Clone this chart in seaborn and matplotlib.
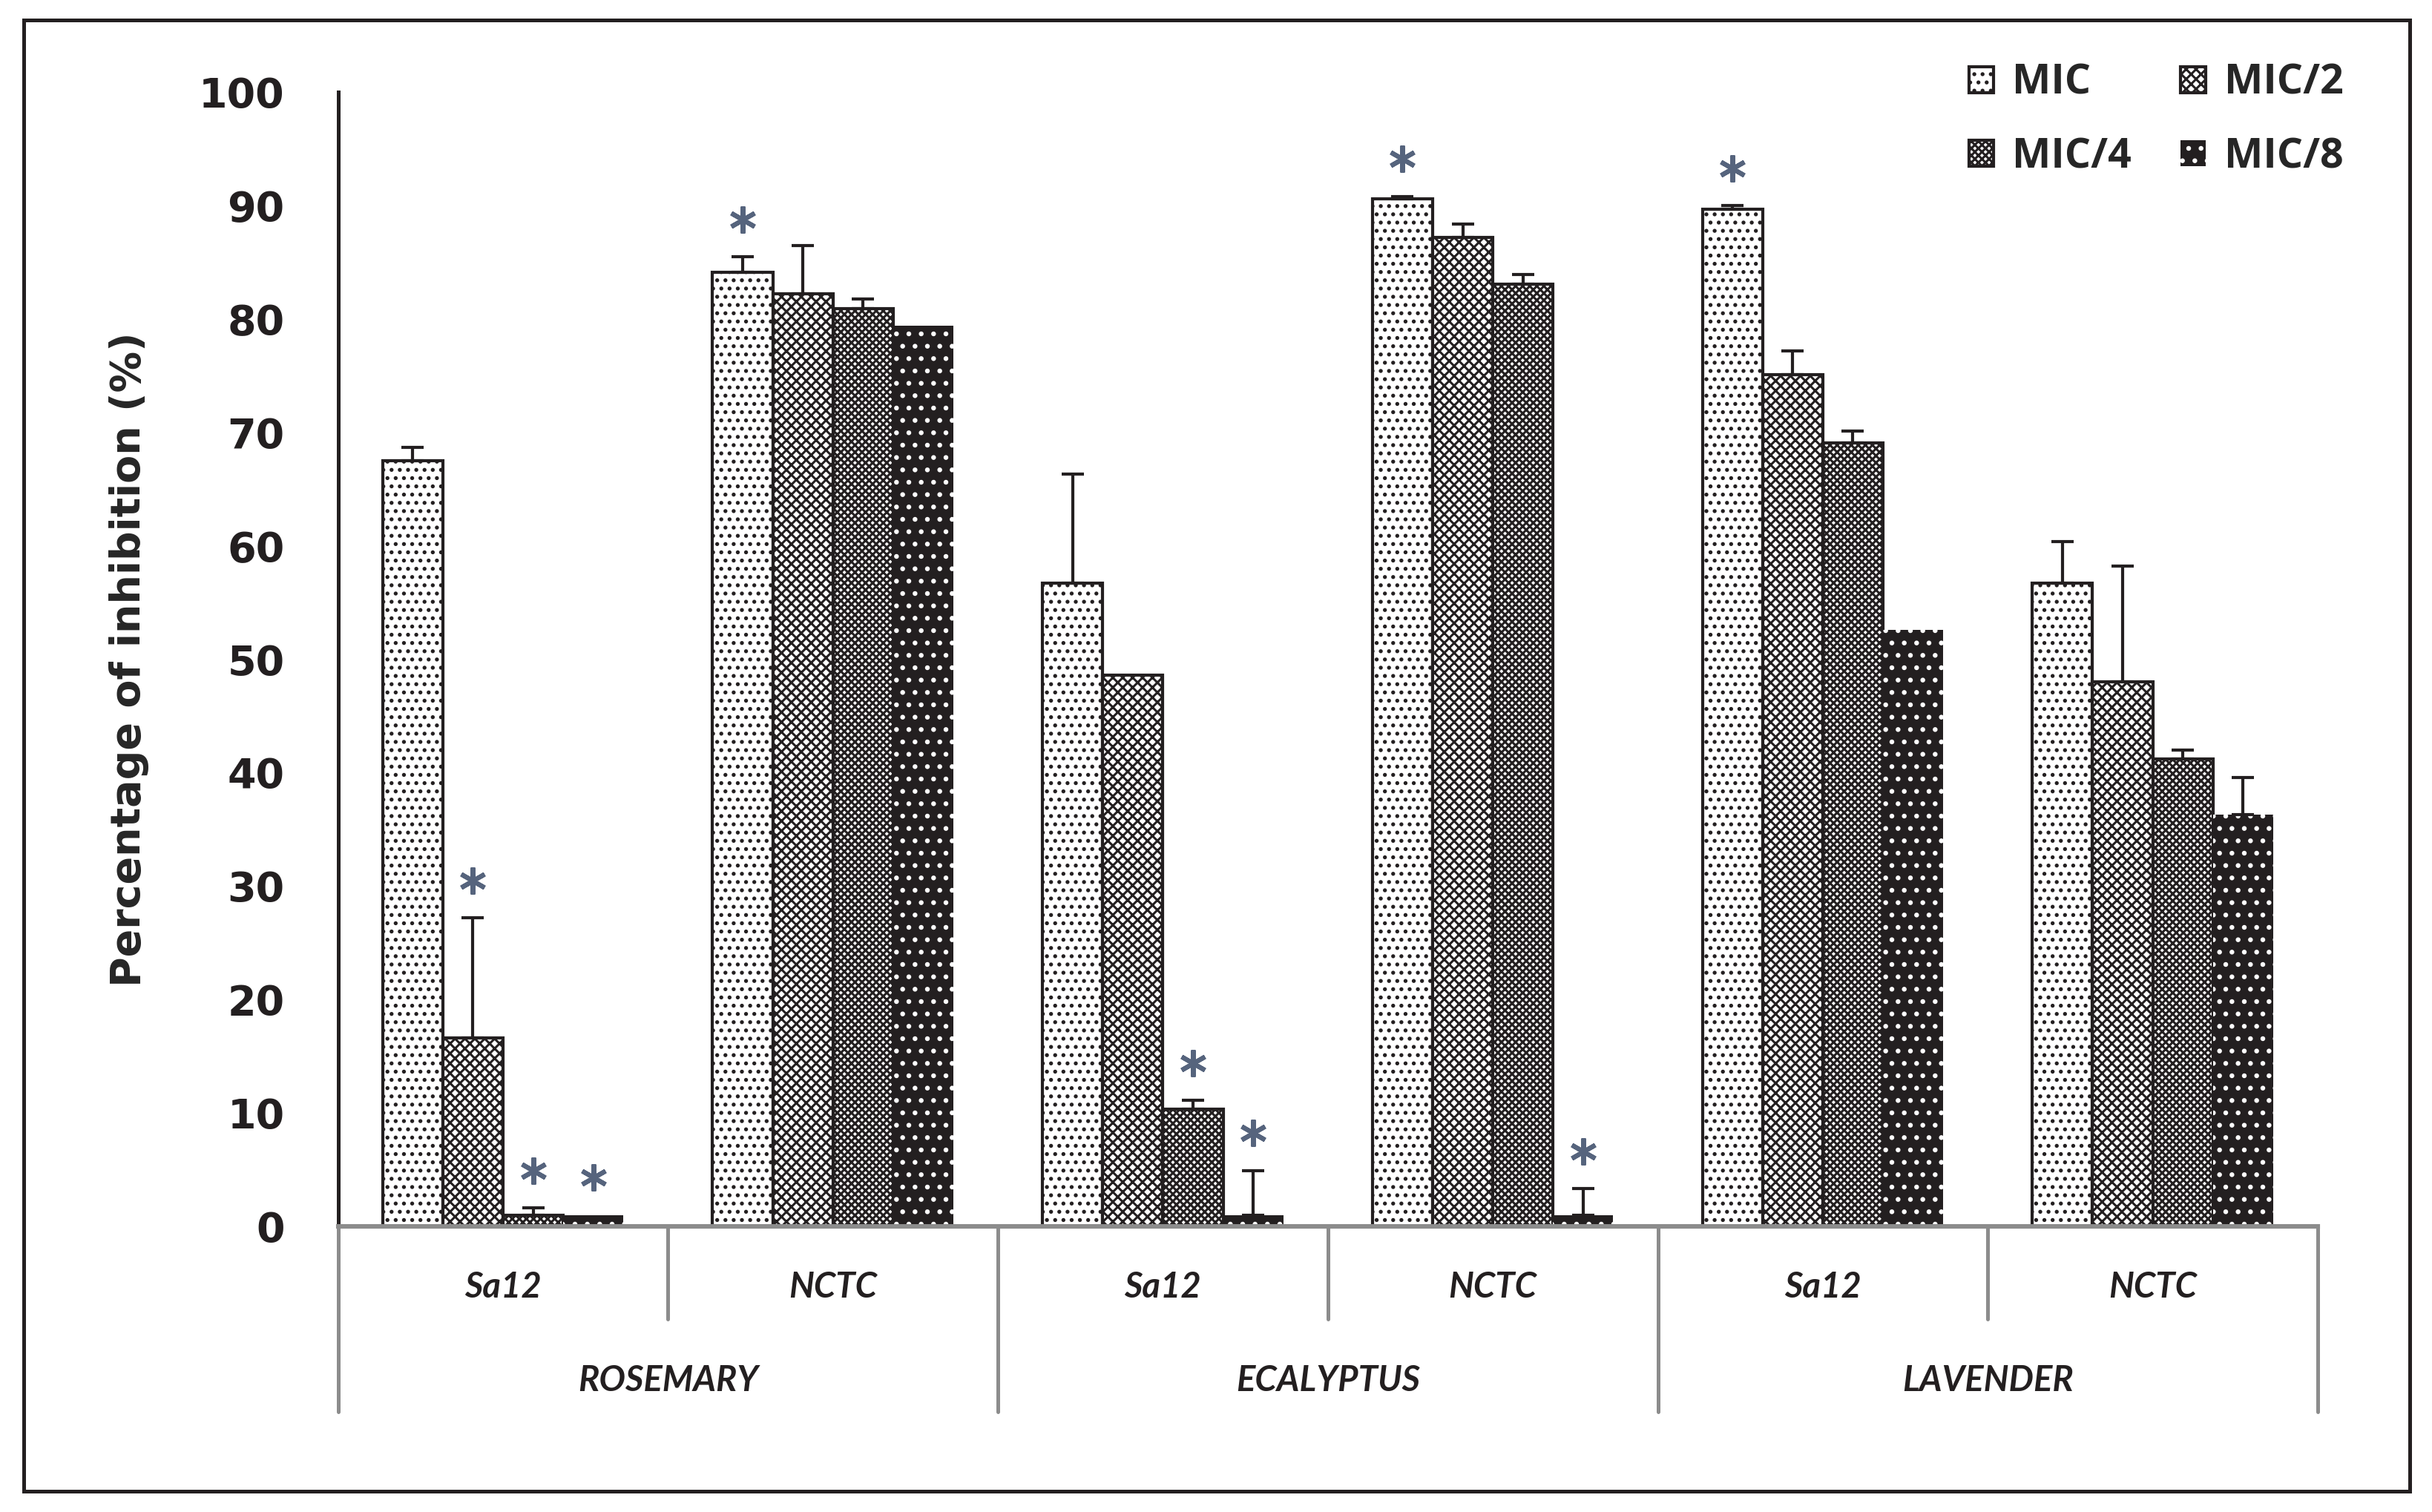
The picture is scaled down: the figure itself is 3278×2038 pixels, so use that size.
import numpy as np
import pandas as pd
import matplotlib
matplotlib.use("Agg")
import matplotlib.pyplot as plt
import seaborn as sns
from matplotlib.patches import Rectangle

# ---- data ----
oils = ["ROSEMARY", "ECALYPTUS", "LAVENDER"]
strains = ["Sa12", "NCTC"]
conc = ["MIC", "MIC/2", "MIC/4", "MIC/8"]

# one value per (oil, strain) pair, in order R-Sa12, R-NCTC, E-Sa12, E-NCTC, L-Sa12, L-NCTC
mic = [67.5, 84.1, 56.7, 90.6, 89.7, 56.7]
mic2 = [16.6, 82.2, 48.6, 87.2, 75.1, 48.0]
mic4 = [1.0, 80.9, 10.3, 83.1, 69.1, 41.2]
mic8 = [1.0, 79.4, 1.0, 1.0, 52.6, 36.3]

mic_err = [1.2, 1.4, 9.6, 0.2, 0.3, 3.7]
mic2_err = [10.6, 4.3, 0.0, 1.2, 2.1, 10.2]
mic4_err = [0.6, 0.9, 0.8, 0.8, 1.0, 0.8]
mic8_err = [0.0, 0.0, 3.9, 2.3, 0.0, 3.3]

# significance marks
mic_star = [False, True, False, True, True, False]
mic2_star = [True, False, False, False, False, False]
mic4_star = [True, False, True, False, False, False]
mic8_star = [True, False, True, True, False, False]

samples = [f"{o}|{s}" for o in oils for s in strains]
values = [mic, mic2, mic4, mic8]
errors = [mic_err, mic2_err, mic4_err, mic8_err]
stars = [mic_star, mic2_star, mic4_star, mic8_star]

df = pd.DataFrame({
    "sample": samples * 4,
    "conc": np.repeat(conc, len(samples)),
    "value": np.concatenate(values),
})

# ---- style ----
sns.set_style("white")
plt.rcParams["font.family"] = ["DejaVu Sans"]
plt.rcParams["hatch.linewidth"] = 1.1

fig = plt.figure(figsize=(16.39, 10.19), dpi=200)
ax = fig.add_axes([0.139, 0.189, 0.814, 0.750])

sns.barplot(data=df, x="sample", y="value", hue="conc", order=samples,
            hue_order=conc, palette=["white", "white", "white", "#231f20"],
            saturation=1, width=0.73, edgecolor="#231f20", linewidth=1.5,
            errorbar=None, legend=False, ax=ax)

hatches = ["...", "xxxxx", "xxxxxxx", ".."]
for cont, h, lvl in zip(ax.containers, hatches, conc):
    for bar in cont:
        bar.set_hatch(h)
        if lvl == "MIC/8":
            bar.set_edgecolor("white")
            bar.set_linewidth(0)

# error bars (upper only) and asterisks
for cont, vals, errs, st in zip(ax.containers, values, errors, stars):
    for bar, v, e, s in zip(cont, vals, errs, st):
        xc = bar.get_x() + bar.get_width() / 2
        if e > 0:
            ax.errorbar(xc, v, yerr=[[0], [e]], fmt="none", ecolor="#231f20",
                        elinewidth=1.5, capsize=5.5, capthick=1.5, zorder=3)
        if s:
            ax.plot(xc, v + e + 3.3, marker=(6, 2, 0), markersize=13,
                    markeredgewidth=2.2, color="#56647d", zorder=4)

ax.set_xlim(-0.5, 5.5)
ax.set_ylim(0, 100)
ax.set_yticks(range(0, 101, 10))
ax.set_xticks([])
ax.set_xlabel("")
ax.set_ylabel("Percentage of inhibition (%)", fontsize=20, fontweight="bold",
              labelpad=24)
ax.tick_params(axis="y", direction="out", length=8, width=1.5, pad=18,
               labelsize=20, colors="#231f20")
for lab in ax.get_yticklabels():
    lab.set_fontweight("bold")

sns.despine(ax=ax)
ax.spines["left"].set_color("#231f20")
ax.spines["left"].set_linewidth(1.8)
ax.spines["bottom"].set_color("#8c8c8c")
ax.spines["bottom"].set_linewidth(2.2)

# two-level category axis
trans = ax.get_xaxis_transform()
for i, s in enumerate(samples):
    ax.text(i, -0.054, s.split("|")[1], transform=trans, ha="center",
            va="center", fontsize=17, style="italic", weight="bold",
            family=["Lato"], color="#231f20")
for k, o in enumerate(oils):
    ax.text(2 * k + 0.5, -0.136, o, transform=trans, ha="center",
            va="center", fontsize=17, style="italic", weight="bold",
            family=["Lato"], color="#231f20")
for xb in np.arange(-0.5, 6, 1.0):
    long_line = int(round(xb + 0.5)) % 2 == 0
    ax.plot([xb, xb], [0, -0.164 if long_line else -0.082], transform=trans,
            color="#8c8c8c", lw=1.8, clip_on=False)

# legend, filled row-wise like the original (MIC, MIC/2 / MIC/4, MIC/8)
handles = [cont[0] for cont in ax.containers]
order = [0, 2, 1, 3]
ax.legend([handles[i] for i in order], [conc[i] for i in order],
          loc="upper right", bbox_to_anchor=(0.972, 0.972),
          bbox_transform=fig.transFigure, ncol=2, frameon=False,
          prop={"family": "Open Sans", "weight": "bold", "size": 20},
          handlelength=0.6, handleheight=0.6, handletextpad=0.45,
          columnspacing=1.2, labelspacing=0.8, borderpad=0)

# outer frame
fig.patches.append(Rectangle((32 / 3278, 1 - 2010 / 2038),
                             (3248 - 32) / 3278, (2010 - 27) / 2038,
                             transform=fig.transFigure, fill=False,
                             edgecolor="#231f20", linewidth=1.8))

fig.savefig("out.png", dpi=200)
